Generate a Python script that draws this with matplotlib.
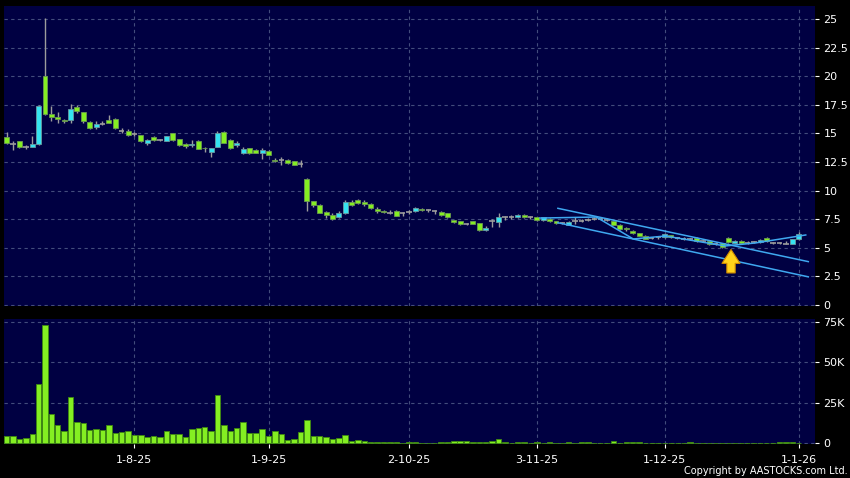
import matplotlib
matplotlib.use('Agg')
import matplotlib.pyplot as plt
import numpy as np
import pandas as pd

# trading days shown on the chart (HK holidays removed)
holidays = ['2025-10-01', '2025-10-07', '2025-10-29', '2025-12-25', '2025-12-26', '2026-01-01']
dates = pd.bdate_range('2025-07-04', '2026-01-02')
dates = dates[~dates.isin(pd.to_datetime(holidays))]

opens = [14.65, 14.1, 14.3, 13.85, 13.85, 14.05, 20.05, 16.7, 16.45, 16.2,
         16.15, 17.35, 16.85, 16.0, 15.6, 15.85, 16.15, 16.3, 15.25, 15.25,
         14.95, 14.85, 14.2, 14.7, 14.4, 14.35, 15.0, 14.5, 14.05, 13.95,
         14.35, 13.75, 13.4, 13.85, 15.1, 14.45, 13.95, 13.25, 13.7, 13.55,
         13.25, 13.5, 12.7, 12.65, 12.65, 12.55, 12.3, 11.05, 9.05, 8.7,
         8.1, 7.9, 7.65, 8.0, 9.0, 9.15, 9.0, 8.85, 8.4, 8.25,
         8.05, 8.25, 8.0, 8.1, 8.2, 8.4, 8.3, 8.2, 8.15, 8.0,
         7.4, 7.3, 7.1, 7.3, 7.15, 6.55, 7.35, 7.25, 7.7, 7.7,
         7.65, 7.9, 7.65, 7.65, 7.4, 7.55, 7.3, 7.2, 7.0, 7.3,
         7.35, 7.45, 7.5, 7.5, 7.45, 7.3, 7.0, 6.7, 6.5, 6.25,
         6.05, 5.85, 5.9, 5.9, 6.1, 5.85, 5.8, 5.75, 5.85, 5.6,
         5.55, 5.3, 5.4, 5.85, 5.45, 5.6, 5.45, 5.5, 5.5, 5.85,
         5.4, 5.4, 5.35, 5.35, 5.75]
highs = [15.1, 14.3, 14.35, 14.0, 14.75, 17.45, 25.05, 17.4, 16.85, 16.3,
         17.6, 17.45, 16.9, 16.05, 16.05, 16.1, 16.6, 16.35, 15.5, 15.4,
         15.1, 14.9, 14.55, 14.75, 14.5, 14.8, 15.05, 14.5, 14.2, 14.45,
         14.4, 13.8, 13.75, 15.2, 15.2, 14.5, 14.3, 13.8, 13.75, 13.6,
         13.7, 13.55, 12.85, 12.9, 12.75, 12.6, 12.65, 11.1, 9.1, 8.8,
         8.25, 8.0, 8.25, 9.15, 9.15, 9.3, 9.15, 8.95, 8.55, 8.3,
         8.3, 8.3, 8.15, 8.3, 8.6, 8.5, 8.4, 8.3, 8.2, 8.05,
         7.45, 7.35, 7.2, 7.35, 7.2, 6.9, 7.55, 8.0, 7.8, 7.85,
         7.95, 7.95, 7.75, 7.7, 7.7, 7.6, 7.35, 7.25, 7.3, 7.7,
         7.5, 7.6, 7.65, 7.7, 7.6, 7.35, 7.05, 6.8, 6.55, 6.3,
         6.1, 5.95, 6.0, 6.25, 6.15, 5.95, 5.9, 5.85, 5.9, 5.7,
         5.6, 5.5, 5.45, 5.9, 5.65, 5.65, 5.55, 5.6, 5.75, 5.9,
         5.5, 5.5, 5.55, 5.8, 6.35]
lows = [14.1, 13.55, 13.7, 13.6, 13.8, 14.0, 16.6, 16.1, 15.9, 15.9,
        15.9, 16.75, 15.9, 15.4, 15.4, 15.7, 15.9, 15.4, 15.0, 14.75,
        14.8, 14.25, 14.0, 14.35, 14.3, 14.3, 14.35, 13.9, 13.7, 13.85,
        13.6, 13.4, 12.95, 13.8, 14.15, 13.65, 13.85, 13.2, 13.2, 13.25,
        12.75, 13.1, 12.5, 12.25, 12.35, 12.2, 12.1, 8.25, 8.55, 8.0,
        7.6, 7.45, 7.6, 7.95, 8.65, 8.8, 8.65, 8.4, 8.05, 8.05,
        7.95, 7.75, 7.75, 7.95, 8.15, 8.2, 8.1, 7.95, 7.8, 7.6,
        7.15, 7.0, 7.0, 7.05, 6.5, 6.5, 6.85, 6.8, 7.45, 7.55,
        7.6, 7.6, 7.55, 7.35, 7.35, 7.25, 7.05, 7.05, 6.95, 7.1,
        7.25, 7.3, 7.4, 7.4, 7.35, 6.95, 6.55, 6.5, 6.2, 6.0,
        5.75, 5.75, 5.8, 5.85, 5.85, 5.75, 5.7, 5.65, 5.5, 5.5,
        5.25, 5.2, 5.0, 5.45, 5.4, 5.35, 5.35, 5.4, 5.45, 5.5,
        5.3, 5.35, 5.3, 5.3, 5.7]
closes = [14.2, 14.1, 13.8, 13.85, 14.1, 17.4, 16.7, 16.45, 16.25, 16.05,
          17.1, 16.95, 16.05, 15.45, 15.8, 15.85, 15.95, 15.45, 15.25, 14.9,
          14.95, 14.3, 14.4, 14.45, 14.4, 14.75, 14.4, 13.95, 13.9, 14.1,
          13.65, 13.7, 13.7, 15.0, 14.2, 13.7, 14.2, 13.6, 13.25, 13.3,
          13.55, 13.15, 12.6, 12.65, 12.4, 12.25, 12.3, 9.05, 8.7, 8.05,
          7.85, 7.55, 8.0, 9.0, 8.75, 8.95, 8.8, 8.45, 8.2, 8.1,
          8.05, 7.8, 8.0, 8.1, 8.45, 8.3, 8.3, 8.2, 7.85, 7.65,
          7.25, 7.05, 7.1, 7.1, 6.55, 6.7, 7.35, 7.65, 7.7, 7.7,
          7.9, 7.65, 7.65, 7.4, 7.65, 7.3, 7.15, 7.2, 7.25, 7.3,
          7.35, 7.45, 7.5, 7.5, 7.45, 7.0, 6.6, 6.6, 6.25, 6.05,
          5.8, 5.85, 5.9, 6.2, 5.9, 5.85, 5.8, 5.75, 5.55, 5.6,
          5.3, 5.3, 5.05, 5.5, 5.6, 5.4, 5.45, 5.5, 5.7, 5.55,
          5.4, 5.4, 5.35, 5.75, 6.2]
# volume in thousands of shares
volumes_k = [4.7, 4.6, 2.7, 3.3, 5.7, 36.8, 73.0, 18.1, 11.3, 7.8,
             28.8, 13.1, 12.5, 8.0, 8.8, 8.2, 11.1, 6.2, 7.0, 7.8,
             4.9, 5.1, 3.7, 4.5, 3.7, 7.4, 5.9, 5.9, 4.1, 8.8,
             9.2, 10.0, 7.8, 30.0, 11.3, 7.4, 9.6, 13.1, 6.4, 6.4,
             8.6, 4.6, 7.6, 5.7, 2.0, 2.8, 7.2, 14.4, 4.6, 4.7,
             3.8, 2.9, 3.5, 5.1, 1.6, 2.2, 1.4, 0.8, 0.8, 0.6,
             0.6, 0.6, 0.4, 0.8, 1.0, 0.4, 0.4, 0.4, 1.0, 1.0,
             1.2, 1.2, 1.2, 0.8, 0.6, 0.8, 1.6, 2.9, 0.8, 0.4,
             0.6, 0.6, 0.4, 0.6, 0.4, 0.6, 0.4, 0.3, 0.6, 0.3,
             0.6, 0.6, 0.3, 0.4, 0.3, 1.2, 0.4, 0.6, 1.0, 0.8,
             0.4, 0.3, 0.3, 0.3, 0.3, 0.3, 0.3, 1.0, 0.3, 0.3,
             0.3, 0.3, 0.3, 0.4, 0.3, 0.3, 0.3, 0.3, 0.3, 0.4,
             0.3, 0.6, 0.8, 1.0, 0.4]

# user drawn lines (bar index, price)
channel_top_x = [86.3, 125.5]
channel_top_y = [8.45, 3.79]
channel_bot_x = [86.3, 125.5]
channel_bot_y = [7.19, 2.46]
trace_x = [83.5, 92.3, 98.1, 103.1, 112.5, 117.2, 125.1]
trace_y = [7.60, 7.69, 5.77, 6.03, 5.16, 5.42, 6.12]
arrow_x = 113.4
arrow_y = [2.8, 4.85]

tick_dates = ['2025-08-01', '2025-09-01', '2025-10-02', '2025-11-03', '2025-12-01', '2026-01-01']
tick_labels = ['1-8-25', '1-9-25', '2-10-25', '3-11-25', '1-12-25', '1-1-26']
price_ticks = [0, 2.5, 5, 7.5, 10, 12.5, 15, 17.5, 20, 22.5, 25]
vol_ticks = [0, 25000, 50000, 75000]
vol_labels = ['0', '25K', '50K', '75K']

BG = '#000042'
GRID = '#434c7c'
UP = '#35e3f0'
DOWN = '#84ee22'
WICK = '#9c9c9c'

opens = np.array(opens)
closes = np.array(closes)
highs = np.array(highs)
lows = np.array(lows)
volumes = np.array(volumes_k) * 1000
x = np.arange(len(dates))

# tick sits on the first trading day on/after each labelled date
tick_idx = list(dates.searchsorted(pd.to_datetime(tick_dates)))

fig = plt.figure(figsize=(8.5, 4.78), dpi=100, facecolor='black')
ax = fig.add_axes([4 / 850, 1 - 306 / 478, 811 / 850, 300 / 478], facecolor=BG)
axv = fig.add_axes([4 / 850, 1 - 444 / 478, 811 / 850, 125 / 478], facecolor=BG)

for a in (ax, axv):
    a.set_xlim(-0.42, 126.55)
    for s in a.spines.values():
        s.set_visible(False)
    for t in tick_idx:
        a.axvline(t, color=GRID, lw=0.8, ls=(0, (3, 3)), zorder=0)
    a.yaxis.tick_right()
    a.tick_params(axis='y', colors='white', labelsize=8, length=3, width=0.8, pad=3)

# price panel
ax.set_ylim(-0.09, 26.14)
for p in price_ticks:
    ax.axhline(p, color=GRID, lw=0.8, ls=(0, (3, 3)), zorder=0)
ax.set_yticks(price_ticks)
ax.set_yticklabels([f'{p:g}' for p in price_ticks])
ax.set_xticks([])

ax.vlines(x, lows, highs, color=WICK, lw=1, zorder=2)
doji = opens == closes
up = (closes > opens)
down = (closes < opens)
ax.bar(x[up], closes[up] - opens[up], bottom=opens[up], width=0.78,
       color=UP, edgecolor='#6a9aa0', lw=0.6, zorder=3)
ax.bar(x[down], opens[down] - closes[down], bottom=closes[down], width=0.78,
       color=DOWN, edgecolor='#6a9a50', lw=0.6, zorder=3)
ax.hlines(closes[doji], x[doji] - 0.42, x[doji] + 0.42, color=WICK, lw=1.2, zorder=3)

ax.plot(channel_top_x, channel_top_y, color='#3fa8f0', lw=1.1, zorder=4)
ax.plot(channel_bot_x, channel_bot_y, color='#3fa8f0', lw=1.1, zorder=4)
ax.plot(trace_x, trace_y, color='#3fa8f0', lw=1.1, zorder=4)
ax.annotate('', xy=(arrow_x, arrow_y[1]), xytext=(arrow_x, arrow_y[0]),
            arrowprops=dict(arrowstyle='simple,head_length=1.0,head_width=1.3,tail_width=0.6',
                            fc='#ffd21a', ec='#d08a00', lw=0.8, mutation_scale=10,
                            shrinkA=0, shrinkB=0),
            zorder=5)

# volume panel
axv.set_ylim(-430, 76700)
for v in vol_ticks:
    axv.axhline(v, color=GRID, lw=0.8, ls=(0, (3, 3)), zorder=0)
axv.bar(x, volumes, width=0.85, color=DOWN, edgecolor='#3f8a10', lw=0.6, zorder=3)
axv.set_yticks(vol_ticks)
axv.set_yticklabels(vol_labels)
axv.set_xticks(tick_idx)
axv.set_xticklabels(tick_labels)
axv.tick_params(axis='x', colors='white', labelsize=8, length=3, width=0.8, pad=5)

fig.text(0.997, 0.005, 'Copyright by AASTOCKS.com Ltd.', color='white', fontsize=7,
         ha='right', va='bottom')

fig.savefig('out.png', dpi=100, facecolor='black')
